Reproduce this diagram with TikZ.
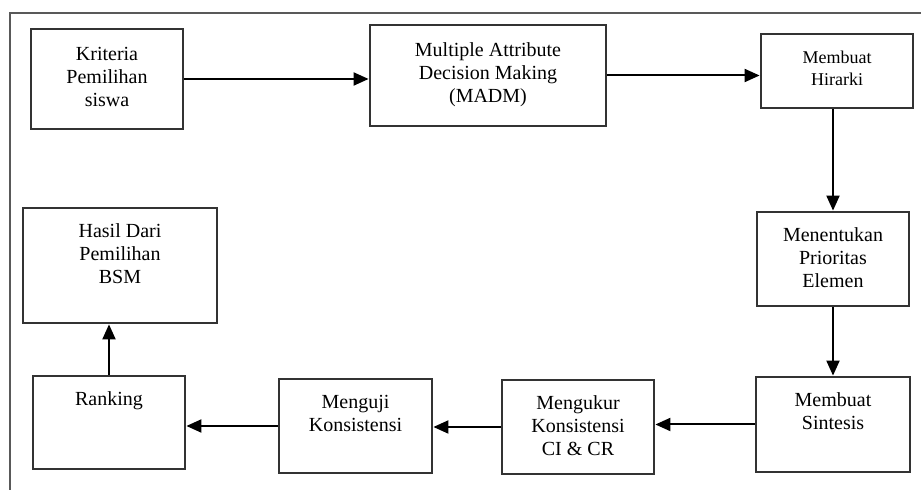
\documentclass[tikz,border=0pt]{standalone}
\usepackage{fontspec}
\setmainfont{Liberation Serif}
\usetikzlibrary{positioning,arrows.meta}
\tikzset{
    step-box/.style = {draw=black!80, line width=1.4pt, rectangle, inner sep=0pt},
    step-text/.style = {align=center, inner sep=0pt, font=\fontsize{10}{11.5}\selectfont},
    flow-arrow/.style = {draw=black, line width=1pt, -{Triangle[length=7.5pt,width=6.5pt]}},
    frame-line/.style = {draw=black!65, line width=1pt},
}

\begin{document}
\begin{tikzpicture}[x=0.5pt, y=-0.5pt]
\useasboundingbox (0,0) rectangle (921,490);
\coordinate (frame-bottom) at (10,490);
\coordinate (frame-right) at (921,13);
\draw[frame-line] (frame-bottom) |- (frame-right);

\node[step-box, minimum width=76pt, minimum height=50pt] (kriteria) at (107,79) {};
\node[step-text, below=9.5pt of kriteria.north] (kriteria-text) {Kriteria\\Pemilihan\\siswa};

\node[step-box, minimum width=118pt, minimum height=50.5pt] (madm) at (488,75.5) {};
\node[step-text, below=9.5pt of madm.north] (madm-text) {Multiple Attribute\\Decision Making\\(MADM)};

\node[step-box, minimum width=76pt, minimum height=37pt] (hirarki) at (837,71) {};
\node[step-text, font=\fontsize{9}{11}\selectfont, below=9pt of hirarki.north] (hirarki-text) {Membuat\\Hirarki};

\node[step-box, minimum width=76pt, minimum height=47pt] (prioritas) at (833,259) {};
\node[step-text, below=8.5pt of prioritas.north] (prioritas-text) {Menentukan\\Prioritas\\Elemen};

\node[step-box, minimum width=77pt, minimum height=47.5pt] (sintesis) at (833,424.5) {};
\node[step-text, below=8.5pt of sintesis.north] (sintesis-text) {Membuat\\Sintesis};

\node[step-box, minimum width=76pt, minimum height=47pt] (ukur) at (578,427) {};
\node[step-text, below=8.5pt of ukur.north] (ukur-text) {Mengukur\\Konsistensi\\CI \& CR};

\node[step-box, minimum width=76.5pt, minimum height=47pt] (uji) at (355.5,426) {};
\node[step-text, below=8.5pt of uji.north] (uji-text) {Menguji\\Konsistensi};

\node[step-box, minimum width=76pt, minimum height=46.5pt] (ranking) at (109,422.5) {};
\node[step-text, below=8.5pt of ranking.north] (ranking-text) {Ranking};

\node[step-box, minimum width=97pt, minimum height=57.5pt] (hasil) at (120,265.5) {};
\node[step-text, below=8.5pt of hasil.north] (hasil-text) {Hasil Dari\\Pemilihan\\BSM};

\draw[flow-arrow] (kriteria.east) -- (kriteria.east -| madm.west);
\draw[flow-arrow] (madm.east) -- (madm.east -| hirarki.west);
\draw[flow-arrow] (hirarki.south -| prioritas.north) -- (prioritas.north);
\draw[flow-arrow] (prioritas) -- (sintesis);
\draw[flow-arrow] (sintesis.west) -- (sintesis.west -| ukur.east);
\draw[flow-arrow] (ukur.west) -- (ukur.west -| uji.east);
\draw[flow-arrow] (uji.west) -- (uji.west -| ranking.east);
\draw[flow-arrow] (ranking.north) -- (ranking.north |- hasil.south);
\end{tikzpicture}
\end{document}
